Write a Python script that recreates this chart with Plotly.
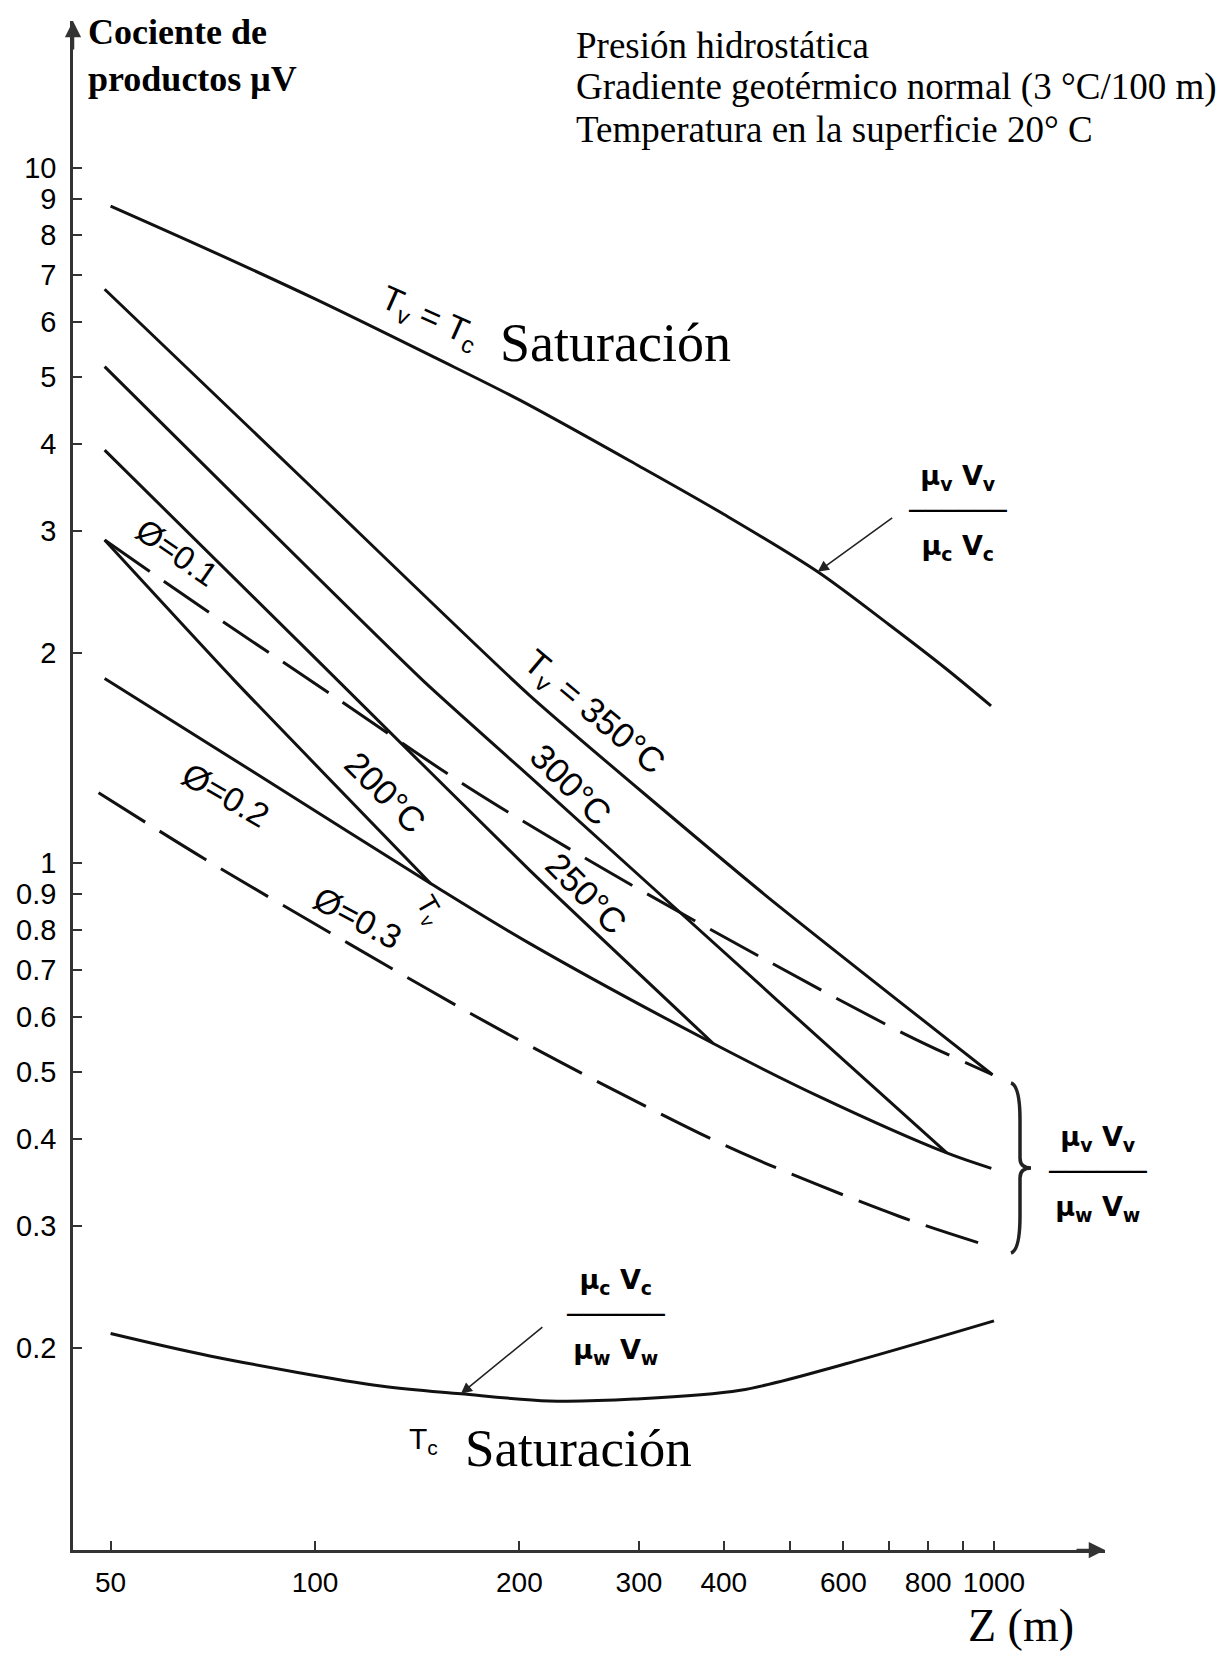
import numpy as np
import plotly.graph_objects as go

# ---------------- data ----------------
z_top = [50, 70, 100, 150, 200, 300, 400, 550, 700, 850, 990]
r_top = [8.8, 7.6, 6.47, 5.33, 4.63, 3.72, 3.17, 2.62, 2.2, 1.9, 1.68]

z_t350 = [49, 100, 207, 457, 995]
r_t350 = [6.68, 3.43, 1.74, 0.903, 0.495]

z_t300 = [49, 144, 207, 479, 852]
r_t300 = [5.17, 1.83, 1.33, 0.634, 0.382]

z_t250 = [49, 100, 207, 386]
r_t250 = [3.92, 1.97, 0.975, 0.549]

z_t200 = [49, 76, 148]
r_t200 = [2.91, 1.83, 0.933]

z_phi01 = [49, 68.5, 105, 169, 273, 452, 743, 995]
r_phi01 = [2.91, 2.32, 1.752, 1.279, 0.965, 0.732, 0.565, 0.495]

z_phi02 = [49, 92, 148, 207, 386, 554, 852, 991]
r_phi02 = [1.84, 1.25, 0.933, 0.765, 0.549, 0.46, 0.382, 0.363]

z_phi03 = [48, 69, 112, 184, 308, 425, 723, 991]
r_phi03 = [1.26, 1.01, 0.765, 0.58, 0.445, 0.382, 0.31, 0.28]

z_cw = [50, 70, 125, 164, 221, 295, 423, 605, 1000]
r_cw = [0.21, 0.195, 0.1765, 0.172, 0.168, 0.169, 0.174, 0.19, 0.219]

y_tickvals = [0.1, 0.2, 0.3, 0.4, 0.5, 0.6, 0.7, 0.8, 0.9, 1, 2, 3, 4, 5, 6, 7, 8, 9, 10]
y_ticktext = ["0.1", "0.2", "0.3", "0.4", "0.5", "0.6", "0.7", "0.8", "0.9", "1",
              "2", "3", "4", "5", "6", "7", "8", "9", "10"]
x_tickvals = [50, 100, 200, 300, 400, 600, 800, 1000]
x_ticktext = ["50", "100", "200", "300", "400", "600", "800", "1000"]
x_minor_ticks = [500, 700, 900]

# ---------------- layout geometry ----------------
W, H = 1223, 1657
L, R, T, B = 73, 118, 21, 107
pw, ph = W - L - R, H - T - B
# log calibration of the axes (px per decade)
x_lo = 2 + (L - 315) / 679
x_hi = 2 + (W - R - 315) / 679
y_hi = (862.5 - T) / 695
y_lo = (862.5 - (H - B)) / 695


def P(X, Y):
    return (X - L) / pw, (H - B - Y) / ph


fig = go.Figure()
solid = dict(color="#111111", width=3)
dashed = dict(color="#111111", width=3, dash="55px,17px")


def add(z, r, line, shape="spline", smooth=0.9):
    ln = dict(line)
    ln["shape"] = shape
    if shape == "spline":
        ln["smoothing"] = smooth
    fig.add_trace(go.Scatter(x=z, y=r, mode="lines", line=ln, showlegend=False,
                             hoverinfo="skip"))


add(z_top, r_top, solid)
add(z_t350, r_t350, solid, smooth=0.5)
add(z_t300, r_t300, solid, smooth=0.5)
add(z_t250, r_t250, solid, smooth=0.5)
add(z_t200, r_t200, solid, smooth=0.5)
add(z_phi01, r_phi01, dashed)
add(z_phi02, r_phi02, solid)
add(z_phi03, r_phi03, dashed)
add(z_cw, r_cw, solid)

ann = []
SANS = "Liberation Sans"
SERIF = "Liberation Serif"


def txt(X, Y, text, size, family=SANS, angle=0, xanchor="center", yanchor="middle", align="center"):
    px_, py_ = P(X, Y)
    ann.append(dict(x=px_, y=py_, xref="paper", yref="paper", text=text, showarrow=False,
                    textangle=angle, xanchor=xanchor, yanchor=yanchor, align=align,
                    font=dict(family=family, size=size, color="black")))


# axis titles / header
txt(86, 10, "<b>Cociente de</b><br><b>productos μV</b>", 36, SERIF, xanchor="left", yanchor="top", align="left")
txt(574, 46, "Presión hidrostática", 37, SERIF, xanchor="left")
txt(574, 87, "Gradiente geotérmico normal (3 °C/100 m)", 37, SERIF, xanchor="left")
txt(574, 129, "Temperatura en la superficie 20° C", 37, SERIF, xanchor="left")
txt(1021, 1625, "Z (m)", 46, SERIF)

# curve labels
txt(430, 318, "T<sub>v</sub> = T<sub>c</sub>", 34, SANS, angle=24)
txt(615, 343, "Saturación", 54, SERIF)
txt(957, 512, "<b>μ<sub>v</sub> V<sub>v</sub></b><br>──────<br><b>μ<sub>c</sub> V<sub>c</sub></b>", 27, "DejaVu Sans")
txt(593, 713, "T<sub>v</sub> = 350°C", 35, SANS, angle=40)
txt(571, 785, "300°C", 35, SANS, angle=45)
txt(587, 893, "250°C", 35, SANS, angle=45)
txt(386, 792, "200°C", 35, SANS, angle=45)
txt(428, 910, "T<sub>v</sub>", 28, SANS, angle=60)
txt(177, 552, "Ø=0.1", 33, SANS, angle=35)
txt(226, 795, "Ø=0.2", 34, SANS, angle=30)
txt(358, 918, "Ø=0.3", 34, SANS, angle=28)
txt(1097, 1173, "<b>μ<sub>v</sub> V<sub>v</sub></b><br>──────<br><b>μ<sub>w</sub> V<sub>w</sub></b>", 27, "DejaVu Sans")
txt(615, 1316, "<b>μ<sub>c</sub> V<sub>c</sub></b><br>──────<br><b>μ<sub>w</sub> V<sub>w</sub></b>", 27, "DejaVu Sans")
txt(423, 1440, "T<sub>c</sub>", 30, SANS)
txt(578, 1448, "Saturación", 53, SERIF)

# pointer arrows onto curves
for zx, ry, ax, ay in [(550, 2.62, 76, -55), (164, 0.172, 83, -68)]:
    ann.append(dict(x=np.log10(zx), y=np.log10(ry), xref="x", yref="y", text="",
                    showarrow=True, ax=ax, ay=ay, arrowhead=2, arrowsize=1.4,
                    arrowwidth=1.6, arrowcolor="#222"))

# axis arrowheads
ann.append(dict(x=0, y=1, xref="paper", yref="paper", text="", showarrow=True,
                ax=0, ay=30, arrowhead=2, arrowsize=1.3, arrowwidth=2.5, arrowcolor="#333"))
ann.append(dict(x=1, y=0, xref="paper", yref="paper", text="", showarrow=True,
                ax=-30, ay=0, arrowhead=2, arrowsize=1.3, arrowwidth=2.5, arrowcolor="#333"))

# curly brace grouping the three lower curves (drawn as a thin path)
bx0, by0 = P(1011, 1083)
bx1, by1 = P(1020, 1120)
bxm, bym = P(1031, 1168)
bx2, by2 = P(1020, 1216)
bx3, by3 = P(1011, 1253)
bxc, _ = P(1020, 0)
bp = (f"M {bx0},{by0} Q {bxc},{P(0,1086)[1]} {bx1},{by1} "
      f"L {bxc},{P(0,1158)[1]} Q {bxc},{bym} {bxm},{bym} "
      f"Q {bxc},{bym} {bxc},{P(0,1178)[1]} L {bx2},{by2} "
      f"Q {bxc},{P(0,1250)[1]} {bx3},{by3}")
fig.add_shape(type="path", path=bp, xref="paper", yref="paper",
              line=dict(color="#222", width=3.5))

fig.update_layout(
    width=W, height=H,
    margin=dict(l=L, r=R, t=T, b=B),
    paper_bgcolor="white", plot_bgcolor="white",
    annotations=ann,
    xaxis=dict(type="log", range=[x_lo, x_hi], showgrid=False, zeroline=False,
               showline=True, linecolor="#333", linewidth=2.5,
               ticks="inside", ticklen=9, tickwidth=1.5, tickcolor="#333",
               tickvals=x_tickvals, ticktext=x_ticktext, ticklabelstandoff=6,
               tickfont=dict(family=SANS, size=28, color="black"),
               minor=dict(tickvals=x_minor_ticks, ticks="inside", ticklen=9,
                          tickwidth=1.5, tickcolor="#333", showgrid=False)),
    yaxis=dict(type="log", range=[y_lo, y_hi], showgrid=False, zeroline=False,
               showline=True, linecolor="#333", linewidth=2.5,
               ticks="inside", ticklen=9, tickwidth=1.5, tickcolor="#333",
               tickvals=y_tickvals, ticktext=y_ticktext, ticklabelstandoff=8,
               tickfont=dict(family=SANS, size=29, color="black")),
)

fig.write_html("out.html", config={"displayModeBar": False},
               post_script="document.body.style.margin='0px';")
